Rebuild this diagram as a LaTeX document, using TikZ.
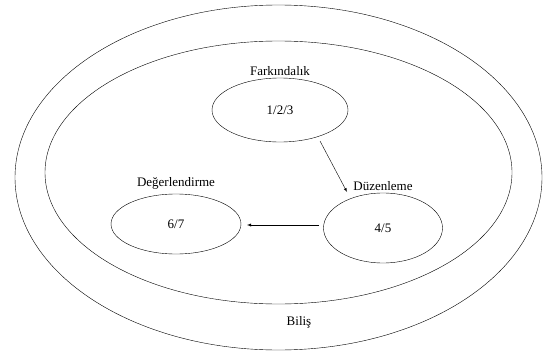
\documentclass[tikz,border=0pt]{standalone}
\usepackage{fontspec}
\setmainfont{Liberation Serif}
\usetikzlibrary{arrows, shapes.geometric}

\tikzset{
  stage/.style={draw, ellipse, inner sep=0pt, font=\fontsize{13}{15}\selectfont},
  title/.style={inner sep=1pt, font=\fontsize{13}{15}\selectfont}
}

\begin{document}
\begin{tikzpicture}[x=1pt, y=-1pt]

\useasboundingbox (0, 0) rectangle (548, 353);

% Rings
\draw (278.5, 177.5) ellipse (263.5pt and 172.5pt);
\draw (278.5, 172.5) ellipse (233.5pt and 131.5pt);
\node[title] (bilis) at (299, 322) {Biliş};

% Stages
\node[stage, minimum width=136pt, minimum height=64pt] (fark) at (280, 110) {1/2/3};
\node[title, above=1pt] (farktitle) at (fark.north) {Farkındalık};

\node[stage, minimum width=119pt, minimum height=70pt] (duzen) at (383, 228) {4/5};
\node[title, above=1pt] (duzentitle) at (duzen.north) {Düzenleme};

\node[stage, minimum width=130pt, minimum height=60pt] (deger) at (176, 224) {6/7};
\node[title, above=3pt] (degertitle) at (deger.north) {Değerlendirme};

% Arrows
\coordinate (a1) at (320, 141);
\coordinate (a2) at (347, 192);
\coordinate (b1) at (319, 225);
\coordinate (b2) at (247, 225);
\draw[->, >=latex] (a1) -- (a2);
\draw[->, >=latex] (b1) -- (b2);

\end{tikzpicture}
\end{document}
